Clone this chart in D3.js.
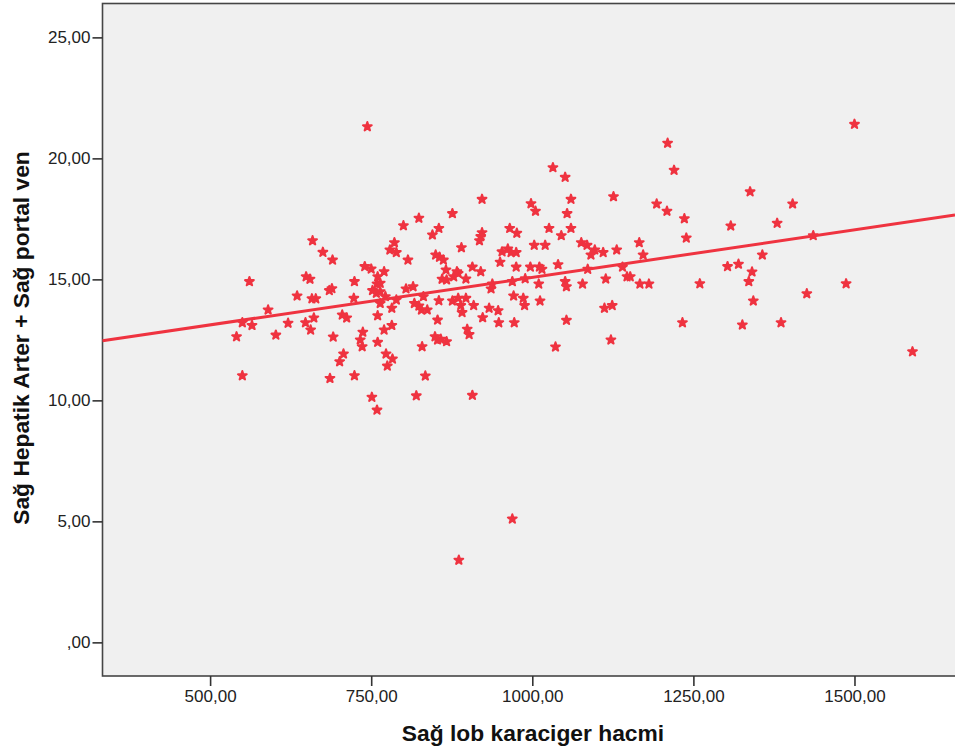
<!DOCTYPE html>
<html>
<head>
<meta charset="utf-8">
<script src="https://cdn.jsdelivr.net/npm/d3@7"></script>
<style>
  html, body { margin: 0; padding: 0; background: #fff; }
  #chart { width: 955px; height: 754px; }
</style>
</head>
<body>
<div id="chart"></div>
<script>
// Sağ lob karaciger hacmi (x) vs Sağ Hepatik Arter + Sağ portal ven (y)
var volume = [
  561, 659, 675, 690, 649, 655, 635, 658, 664, 685, 689, 724, 723, 740, 750, 760, 770, 764, 759, 752,
  758, 764, 772, 764, 782, 789, 760, 779, 786, 789, 800, 824, 807, 804, 815, 817, 824, 828, 837, 831,
  845, 855, 850, 856, 862, 866, 860, 855, 853, 849, 853, 858, 867, 829, 834, 820, 590, 550, 565, 541,
  602, 621, 648, 661, 656, 705, 712, 691, 737, 733, 736, 760, 770, 782, 707, 701, 773, 783, 775, 550,
  686, 724, 751, 759,
  1210, 1220, 1032, 1051, 922, 876, 998, 1005, 1060, 1054, 1126, 1193, 1209, 1236, 1239, 965, 976, 1026, 1060, 1045,
  922, 920, 918, 890, 1003, 1020, 1076, 1085, 1097, 1091, 1110, 1131, 1166, 1172, 953, 962, 967, 975, 950, 975,
  997, 1011, 1015, 1040, 1086, 1140, 907, 920, 883, 878, 885, 897, 867, 938, 936, 969, 989, 1010, 1051, 1053,
  1078, 1114, 1147, 1152, 1167, 1181, 876, 885, 897, 889, 891, 909, 933, 947, 971, 986, 988, 1012, 923, 948,
  972, 899, 902, 1053, 1036, 1112, 1124, 1122, 1233,
  1500, 1338, 1404, 1308, 1380, 1436, 1357, 1303, 1320, 1341, 1336, 1260, 1343, 1426, 1487, 1326, 1386, 1590,
  907, 969, 886, 744
];
var flow = [
  14.91, 16.60, 16.12, 15.80, 15.11, 15.01, 14.32, 14.20, 14.20, 14.54, 14.62, 14.91, 14.22, 15.53, 15.43, 15.11, 15.32, 14.84, 14.81, 14.54,
  14.43, 14.49, 14.29, 14.01, 13.81, 14.15, 13.50, 16.22, 16.52, 16.11, 17.22, 17.53, 15.80, 14.61, 14.70, 14.01, 13.90, 13.74, 13.74, 14.29,
  16.84, 17.11, 16.01, 15.92, 15.80, 15.39, 15.01, 14.12, 13.32, 12.63, 12.50, 12.53, 12.43, 12.22, 11.01, 10.19, 13.74, 13.21, 13.10, 12.63,
  12.70, 13.19, 13.21, 13.41, 12.91, 13.53, 13.41, 12.62, 12.82, 12.50, 12.22, 12.40, 12.91, 13.10, 11.92, 11.60, 11.92, 11.71, 11.42, 11.02,
  10.91, 11.02, 10.13, 9.60,
  20.63, 19.51, 19.62, 19.22, 18.31, 17.72, 18.13, 17.82, 18.31, 17.72, 18.42, 18.12, 17.82, 17.51, 16.71, 17.11, 16.91, 17.11, 17.11, 16.81,
  16.93, 16.77, 16.60, 16.31, 16.41, 16.41, 16.52, 16.41, 16.22, 16.01, 16.11, 16.22, 16.52, 16.01, 16.14, 16.26, 16.11, 16.11, 15.71, 15.51,
  15.51, 15.51, 15.42, 15.61, 15.42, 15.51, 15.51, 15.32, 15.32, 15.11, 15.25, 15.02, 14.98, 14.81, 14.61, 14.91, 15.03, 14.81, 14.91, 14.70,
  14.81, 15.02, 15.11, 15.11, 14.81, 14.81, 14.11, 14.22, 14.22, 13.92, 13.63, 13.92, 13.81, 13.71, 14.32, 14.22, 13.92, 14.11, 13.42, 13.21,
  13.21, 12.94, 12.72, 13.31, 12.21, 13.81, 13.92, 12.50, 13.21,
  21.41, 18.62, 18.12, 17.21, 17.32, 16.81, 16.01, 15.53, 15.63, 15.31, 14.91, 14.82, 14.11, 14.41, 14.82, 13.12, 13.21, 12.01,
  10.21, 5.10, 3.40, 21.31
];
// fit line (total)
var fitIntercept = 11.154;
var fitSlope = 0.003929;

var xTicks = [500, 750, 1000, 1250, 1500];
var yTicks = [0, 5, 10, 15, 20, 25];
var xDomain = [333, 1656];
var yDomain = [-1.39, 26.4];

(function () {
  'use strict';

  var width = 955, height = 754;
  var plot = { left: 102.5, right: 958, top: 3.5, bottom: 676 };
  var red = '#ef3340';
  var font = '"Liberation Sans", Arial, sans-serif';

  function fmt(d) { return d === 0 ? ',00' : d + ',00'; }

  var x = d3.scaleLinear().domain(xDomain).range([plot.left, 955]);
  var y = d3.scaleLinear().domain(yDomain).range([plot.bottom, plot.top]);

  var svg = d3.select('#chart').append('svg').attr('width', width).attr('height', height)
    .style('font-family', font);

  // Plot background + frame
  svg.append('rect').attr('x', plot.left).attr('y', plot.top)
    .attr('width', plot.right - plot.left).attr('height', plot.bottom - plot.top)
    .attr('fill', '#f0f0f0').attr('stroke', '#454545').attr('stroke-width', 1.6);

  // Fit line
  var fit = xDomain.map(function (v) { return { x: v, y: fitIntercept + fitSlope * v }; });
  svg.append('path').datum(fit)
    .attr('d', d3.line().x(function (d) { return x(d.x); }).y(function (d) { return y(d.y); }))
    .attr('fill', 'none').attr('stroke', red).attr('stroke-width', 3);

  // Points (chunky stars, like the SPSS marker)
  var pts = volume.map(function (v, i) { return { x: v, y: flow[i] }; });
  var star = d3.symbol().type(d3.symbolStar).size(24);
  svg.append('g').selectAll('path').data(pts).enter().append('path')
    .attr('transform', function (d) { return 'translate(' + x(d.x) + ',' + y(d.y) + ')'; })
    .attr('d', star)
    .attr('fill', red).attr('stroke', red).attr('stroke-width', 2).attr('stroke-linejoin', 'round');

  // Axes
  var ax = svg.append('g').attr('transform', 'translate(0,' + plot.bottom + ')')
    .call(d3.axisBottom(x).tickValues(xTicks).tickSize(10).tickPadding(4).tickFormat(fmt));
  var ay = svg.append('g').attr('transform', 'translate(' + plot.left + ',0)')
    .call(d3.axisLeft(y).tickValues(yTicks).tickSize(10).tickPadding(2).tickFormat(fmt));
  [ax, ay].forEach(function (a) {
    a.select('.domain').remove();
    a.selectAll('.tick line').attr('stroke', '#333').attr('stroke-width', 1.6);
    a.selectAll('text').attr('fill', '#222').attr('font-size', '17px').attr('font-family', font);
  });

  // Axis titles
  svg.append('text').attr('x', 533).attr('y', 741).attr('text-anchor', 'middle')
    .attr('font-size', '22.8px').attr('font-weight', 'bold').attr('fill', '#111')
    .text('Sağ lob karaciger hacmi');
  svg.append('text').attr('transform', 'translate(29,338) rotate(-90)').attr('text-anchor', 'middle')
    .attr('font-size', '22.8px').attr('font-weight', 'bold').attr('fill', '#111')
    .text('Sağ Hepatik Arter + Sağ portal ven');
})();
</script>
</body>
</html>
